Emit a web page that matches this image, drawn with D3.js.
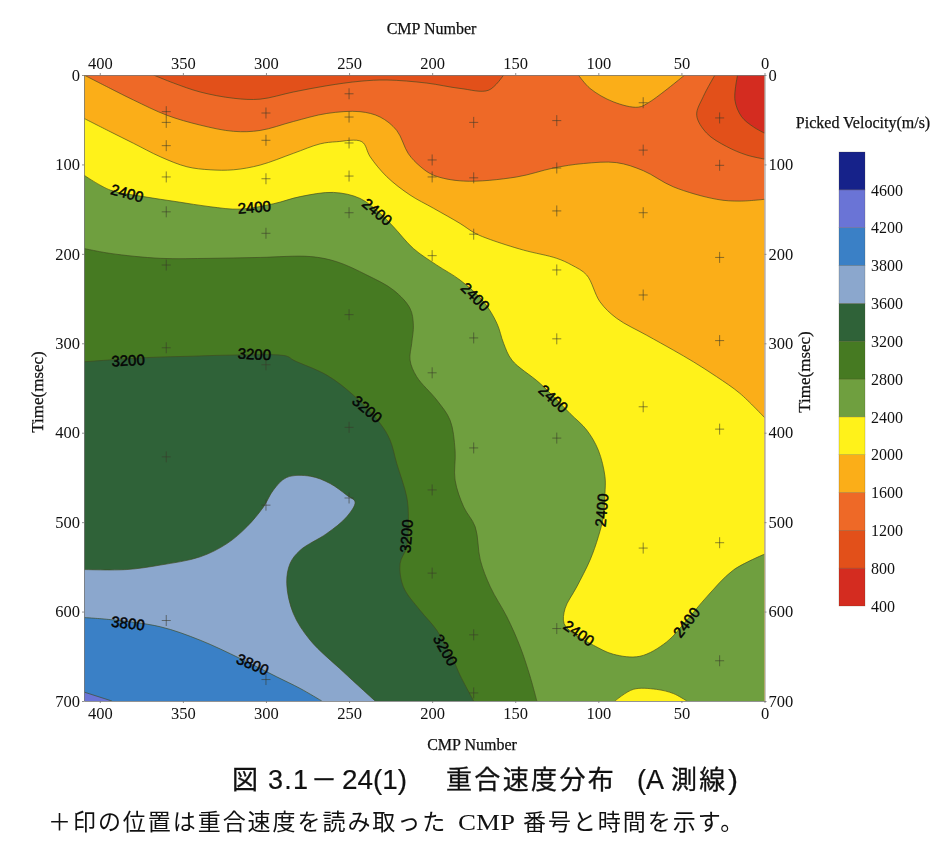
<!DOCTYPE html>
<html><head><meta charset="utf-8">
<style>html,body{margin:0;padding:0;background:#fff}svg{display:block;filter:blur(.35px)}</style>
<script src="https://cdn.jsdelivr.net/npm/d3@7/dist/d3.min.js"></script>
</head><body><svg id="c" width="951" height="860"></svg>
<script>
// ---- axis ticks
const cmpTicks = [400,350,300,250,200,150,100,50,0];
const timeTicks = [0,100,200,300,400,500,600,700];
const CMP_MAX = 409.5, TIME_MAX = 700;

// ---- legend
const levelLabels = [400,800,1200,1600,2000,2400,2800,3200,3600,3800,4200,4600];
const levelColors = ["#d42c20","#e2501a","#ee6927","#fbae18","#fff21a","#6f9f3f","#467a22","#2f6238","#8ba7cd","#3a80c6","#6a74d6","#16228a"];

// ---- contour lines, [CMP, time]
const c800Corner = [[16.2,0],[17.8,28],[13.8,46.6],[6.7,58],[0,65]];
const c1200Corner = [[29.8,0],[36.8,24],[40.8,45],[34.8,65],[22.8,80],[10.7,89.5],[0,94]];
const c1200Top = [[367.7,0],[355.6,9],[339.6,19],[319.5,26],[303.5,27],[283.5,19],[263.4,12],[243.4,7],[227.3,5.6],[203.3,9],[183.2,15],[166,17],[157,0]];
const c1600Pocket = [[112,0],[105,15],[91,30],[76,36],[69,30],[48,0]];
const c1600 = [[409.5,0],[393.7,15],[379.7,28],[359.6,45],[339.6,56],[319.5,63],[303.5,62],[283.5,52],[263.4,43],[243.4,41],[231.3,47],[221.3,62],[214.3,88],[207.3,102],[199.2,112],[181.2,118.6],[149.1,114],[127,104],[109,99],[89,98],[72.9,107],[54.9,125],[28.8,139],[14.8,141],[0,139]];
const c2000 = [[409.5,48.5],[393.7,63.4],[379.7,76.4],[363.6,91.4],[347.6,102.6],[333.6,106],[319.5,106],[303.5,100.7],[283.5,87.6],[267.4,77],[257.4,74.6],[242.3,74.6],[237.3,91.4],[227.3,113.7],[213.3,134.2],[199.2,149],[183.2,166],[174.1,177],[165,184],[145,195.8],[125,205],[116,212.5],[107,223.7],[99,253.6],[89,272],[70.9,291],[54.9,307.6],[42.8,320.7],[28.8,337.4],[14.8,356],[0,383]];
const c2400 = [[409.5,112],[393.7,128.7],[373.7,136],[353.6,141.7],[333.6,147.3],[315.5,150],[295.5,144],[279.4,136],[259.4,131.3],[243.4,138],[231.3,154.8],[223.3,169.7],[211.3,194],[197.2,212.6],[183.2,229.3],[169,253.6],[161,277.8],[157,300],[152,318.8],[135,345],[117,378.5],[107,397],[100,419.5],[96,449],[96,468],[97,494],[100,516.4],[105,542.5],[113,572.4],[120,596.6],[120.6,613.4],[115,624.6],[103,637.6],[91,647.7],[75,650],[58.9,634],[46.8,609.7],[34.8,583.6],[18.8,553.7],[0,535.8]];
const c2400Bump = [[90,700],[79,687],[65,687],[54.8,691.7],[46.8,700]];
const c2800 = [[409.5,194],[393.7,199.5],[363.6,205],[333.6,205],[303.5,204],[273.4,203],[257.4,208.8],[239.3,223.7],[223.3,240.5],[213.3,261],[211.3,279.7],[212.3,300],[213.3,318.8],[209.3,337.4],[197.2,363.5],[189.2,386],[186.2,419.5],[186.2,453],[181,483],[174.1,505.2],[171,542.5],[165,572.4],[155,606],[147,639.5],[141,673],[137,700]];
const c3200 = [[409.5,320.7],[371.7,316],[343.6,314.4],[315.5,313],[287.4,314.4],[283.5,318.8],[263.4,335.6],[247.4,358],[231.3,389.6],[225.3,408.3],[221.3,434.4],[215.3,471.7],[214.3,494],[215.3,527.6],[219.3,546.3],[217.3,572.4],[207.3,598.5],[197.2,620.9],[187.2,654.4],[183.2,671.2],[175,700]];
const c3600 = [[409.5,553],[383.7,553],[363.6,548],[339.6,538.8],[323.5,524],[311.5,505.2],[301.5,483],[295.5,464],[287.5,450],[273.4,448.6],[261.4,456.8],[251.4,469.8],[246.4,477.3],[251.4,494],[263.4,512.7],[279.4,531.4],[285.5,546.3],[287.5,568.6],[283.5,602.2],[273.4,632],[253.4,667.5],[234.3,700]];
const c3800 = [[409.5,606.7],[393.7,609],[363.6,617],[339.6,632],[315.5,652.5],[293.5,673],[279.4,686],[266.4,700]];
const c4200 = [[409.5,690],[392.7,700]];

// ---- picked positions: CMP and the times picked at it
const pickCmp = [360,300,250,200,175,125,73,27];
const pickTimes = [
 [41,53,79,114,153,212.5,305,427,610],
 [42.5,73,116,177,324,481,676],
 [21,47,76,113,154,268,394,473],
 [95,114,202,333,464,557],
 [53,115,178,294,417,626,691],
 [51,104,152,218,295,406,619],
 [31,84,154,246,371,529],
 [48,101,204,297,396,523,655]
];

// ---- contour labels: [value, CMP, time, angle]
const contourLabels = [
 [2400,383.5,132,15],[2400,307,147.6,-5],[2400,233,153,40],[2400,174,248,45],[2400,127,362,42],
 [2400,98,486.6,-85],[2400,111.6,624,35],[2400,47,612,-52],
 [3200,383,319,-3],[3200,307,312,3],[3200,239,373.6,40],[3200,215.6,515.7,-85],[3200,192,643,60],
 [3800,383,613,7],[3800,308,659,23]
];

// ---- caption text
const captionTop = ["図","3.1","－","24(1)","重合速度分布","(A","測線",")"];
const captionBottom = ["＋印の位置は重合速度を読み取った","CMP","番号と時間を示す。"];

const svg = d3.select("#c");
const x = d3.scaleLinear().domain([CMP_MAX,0]).range([84,764.5]);
const y = d3.scaleLinear().domain([0,TIME_MAX]).range([75,701]);
const SERIF = "'Liberation Serif','DejaVu Serif',serif";
const SANS = "'Liberation Sans',Arial,sans-serif";
const CJK = "'Noto Sans CJK JP',sans-serif";
const line = d3.line().x(d=>x(d[0])).y(d=>y(d[1])).curve(d3.curveCatmullRom.alpha(0.5));
const BL=[CMP_MAX,TIME_MAX], BR=[0,TIME_MAX], TR=[0,0];

const layers = [
 {pts:c1600, col:3, close:[BR,BL]},
 {pts:c1600Pocket, col:3, close:[]},
 {pts:c1200Top, col:1, close:[]},
 {pts:c1200Corner, col:1, close:[TR]},
 {pts:c800Corner, col:0, close:[TR]},
 {pts:c2000, col:4, close:[BR,BL]},
 {pts:c2400, col:5, close:[BR,BL]},
 {pts:c2400Bump, col:4, close:[]},
 {pts:c2800, col:6, close:[BL]},
 {pts:c3200, col:7, close:[BL]},
 {pts:c3600, col:8, close:[BL]},
 {pts:c3800, col:9, close:[BL]},
 {pts:c4200, col:10, close:[BL]}
];

svg.append("clipPath").attr("id","plot").append("rect")
  .attr("x",x(CMP_MAX)).attr("y",y(0)).attr("width",x(0)-x(CMP_MAX)).attr("height",y(TIME_MAX)-y(0));
const plot = svg.append("g").attr("clip-path","url(#plot)");
plot.append("rect").attr("x",x(CMP_MAX)).attr("y",y(0)).attr("width",x(0)-x(CMP_MAX)).attr("height",y(TIME_MAX)-y(0)).attr("fill",levelColors[2]);
plot.selectAll("path.fill").data(layers).join("path").attr("class","fill")
  .attr("fill",d=>levelColors[d.col])
  .attr("d",d=>line(d.pts)+d.close.map(p=>`L${x(p[0])},${y(p[1])}`).join("")+"Z");
plot.selectAll("path.iso").data(layers).join("path").attr("class","iso")
  .attr("fill","none").attr("stroke","#3f4a20").attr("stroke-opacity",.65).attr("stroke-width",1)
  .attr("d",d=>line(d.pts));

// picks
const picks = pickCmp.flatMap((c,i)=>pickTimes[i].map(t=>[c,t]));
plot.selectAll("path.pick").data(picks).join("path").attr("class","pick")
  .attr("transform",d=>`translate(${x(d[0])},${y(d[1])})`)
  .attr("d","M-4.5,0H4.5M0,-5.5V5.5").attr("fill","none").attr("stroke","#3a3a2a").attr("stroke-opacity",.65).attr("stroke-width",.9);

// contour labels
svg.append("g").selectAll("text").data(contourLabels).join("text")
  .attr("transform",d=>`translate(${x(d[1])},${y(d[2])}) rotate(${d[3]})`)
  .attr("text-anchor","middle").attr("dy","0.36em")
  .attr("font-family",SANS).attr("font-size",15)
  .attr("fill","#050505").attr("stroke","#050505").attr("stroke-width",.5)
  .text(d=>d[0]);

// axes
function styleAxis(g){
  g.selectAll(".domain").attr("stroke","#777").attr("stroke-width",.8);
  g.selectAll(".tick line").attr("stroke","#777").attr("stroke-width",.8);
  g.selectAll("text").attr("font-family",SERIF).attr("font-size",16.5).attr("fill","#111");
}
svg.append("g").attr("transform",`translate(0,${y(0)})`).call(d3.axisTop(x).tickValues(cmpTicks).tickSize(2).tickPadding(4).tickSizeOuter(0)).call(styleAxis);
svg.append("g").attr("transform",`translate(0,${y(TIME_MAX)})`).call(d3.axisBottom(x).tickValues(cmpTicks).tickSize(2).tickPadding(4).tickSizeOuter(0)).call(styleAxis);
svg.append("g").attr("transform",`translate(${x(CMP_MAX)},0)`).call(d3.axisLeft(y).tickValues(timeTicks).tickSize(2).tickPadding(2).tickSizeOuter(0)).call(styleAxis);
svg.append("g").attr("transform",`translate(${x(0)},0)`).call(d3.axisRight(y).tickValues(timeTicks).tickSize(2).tickPadding(2).tickSizeOuter(0)).call(styleAxis);

function title(txt,px,py,size,rot){
  return svg.append("text").attr("text-anchor","middle").attr("font-family",SERIF)
    .attr("font-size",size).attr("fill","#111").attr("stroke","#111").attr("stroke-width",.25)
    .attr("transform",`translate(${px},${py})${rot?` rotate(${rot})`:""}`).text(txt);
}
title("CMP Number",431.5,34,16);
title("CMP Number",472,750,16);
title("Time(msec)",43,392,17,-90);
title("Time(msec)",810,372,17,-90);
title("Picked Velocity(m/s)",863,128,16);

// colour bar
const cellIdx = d3.range(levelColors.length);
const cb = d3.scaleBand().domain(cellIdx).range([606,152]).paddingInner(0);
svg.append("g").selectAll("rect").data(cellIdx).join("rect")
  .attr("x",839).attr("width",26).attr("y",d=>cb(d)).attr("height",cb.bandwidth())
  .attr("fill",d=>levelColors[d]).attr("stroke","#4a3a20").attr("stroke-opacity",.35).attr("stroke-width",.6);
svg.append("g").selectAll("text").data(levelLabels).join("text")
  .attr("x",871).attr("y",(d,i)=>cb(i)+cb.bandwidth()).attr("dy","0.36em")
  .attr("font-family",SERIF).attr("font-size",16).attr("fill","#111").text(d=>d);

// captions
function cap(txt,px,py,size,font,opts={}){
  const t = svg.append("text").attr("x",px).attr("y",py).attr("font-family",font)
    .attr("font-size",size).attr("fill","#111").text(txt);
  if(opts.ls) t.attr("letter-spacing",opts.ls);
  if(opts.w) t.attr("textLength",opts.w).attr("lengthAdjust","spacing");
  if(opts.g) t.attr("textLength",opts.g).attr("lengthAdjust","spacingAndGlyphs");
  if(opts.s) t.attr("stroke","#111").attr("stroke-width",opts.s);
  return t;
}
cap(captionTop[0],232,789,26,CJK,{s:.3});
cap(captionTop[1],268,789,27,SANS,{w:40,s:.2});
cap(captionTop[2],311,789,26,CJK,{s:.3});
cap(captionTop[3],342,789,27,SANS,{g:65,s:.2});
cap(captionTop[4],446,789,26,CJK,{ls:2.35,s:.3});
cap(captionTop[5],637,789,27,SANS,{g:27,s:.2});
cap(captionTop[6],671,789,26,CJK,{ls:2.2,s:.3});
cap(captionTop[7],728,789,27,SANS,{g:10,s:.2});
cap(captionBottom[0],48,829.5,23,CJK,{ls:1.95});
cap(captionBottom[1],458,829.5,24,SERIF,{g:57});
cap(captionBottom[2],523,829.5,23,CJK,{ls:1.95});
</script></body></html>
